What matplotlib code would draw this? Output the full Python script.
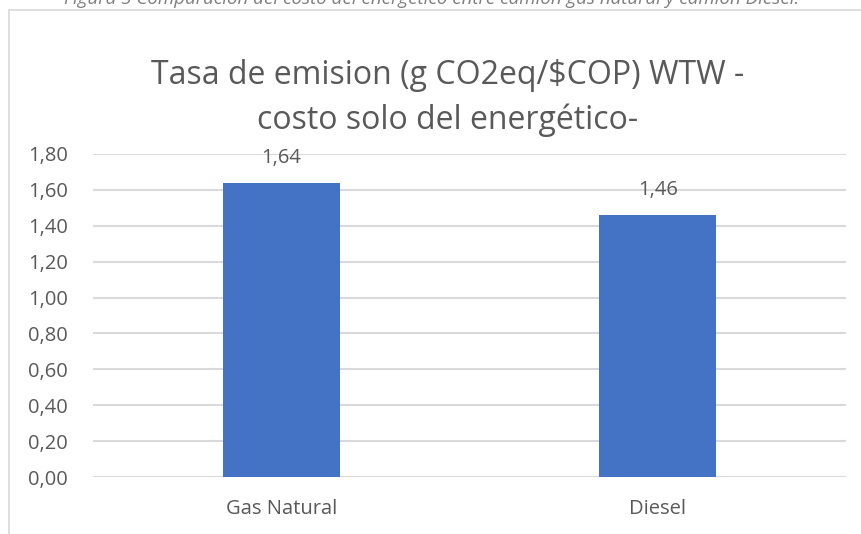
import matplotlib
matplotlib.use("Agg")
import matplotlib.pyplot as plt
from matplotlib.ticker import FuncFormatter, MultipleLocator
from matplotlib.patches import Rectangle

categories = ["Gas Natural", "Diesel"]
values = [1.64, 1.46]
title_lines = ["Tasa de emision (g CO2eq/$COP) WTW -", "costo solo del energético-"]
caption = "Figura 5 Comparación del costo del energético entre camión gas natural y camión Diesel."

FONT = ["Open Sans", "DejaVu Sans"]
TXT = "#595959"
W, H = 861, 534

fig = plt.figure(figsize=(W / 100, H / 100), dpi=100)
fig.patch.set_facecolor("white")

# chart frame
fig.add_artist(Rectangle((9 / W, -0.05), 1.0, 1 - 9.5 / H + 0.05, transform=fig.transFigure,
                         fill=False, edgecolor="#D9D9D9", linewidth=1.2))

# caption (cut off at top, as in the reference)
fig.text(432 / W, 1 - 4 / H, caption, ha="center", va="baseline", fontsize=13.5,
         style="italic", color="#7F7F7F", family=FONT)

ax = fig.add_axes([93 / W, 1 - 477 / H, (846 - 93) / W, (477 - 154) / H])
x = range(len(categories))
bars = ax.bar(x, values, width=0.31, color="#4472C4", zorder=3)
ax.set_xlim(-0.5, len(categories) - 0.5)
ax.set_ylim(0, 1.8)
ax.yaxis.set_major_locator(MultipleLocator(0.2))
ax.yaxis.set_major_formatter(FuncFormatter(lambda v, p: f"{v:.2f}".replace(".", ",")))
ax.set_xticks(list(x))
ax.set_xticklabels(categories)
ax.grid(axis="y", color="#D9D9D9", linewidth=1.5, zorder=0)
for s in ax.spines.values():
    s.set_visible(False)
ax.tick_params(axis="both", length=0, labelsize=14.5, labelcolor=TXT)
ax.tick_params(axis="y", pad=18)
ax.tick_params(axis="x", pad=16)
for lab in ax.get_xticklabels() + ax.get_yticklabels():
    lab.set_family(FONT)

for b, v in zip(bars, values):
    ax.annotate(f"{v:.2f}".replace(".", ","), (b.get_x() + b.get_width() / 2, v),
                xytext=(0, 25), textcoords="offset pixels", ha="center", va="center",
                fontsize=14.5, color=TXT, family=FONT)

fig.text(448 / W, 1 - 75 / H, title_lines[0], ha="center", va="center",
         fontsize=23, color=TXT, family=FONT)
fig.text(448 / W, 1 - 120 / H, title_lines[1], ha="center", va="center",
         fontsize=23, color=TXT, family=FONT)

fig.savefig("out.png", dpi=100, facecolor="white")
